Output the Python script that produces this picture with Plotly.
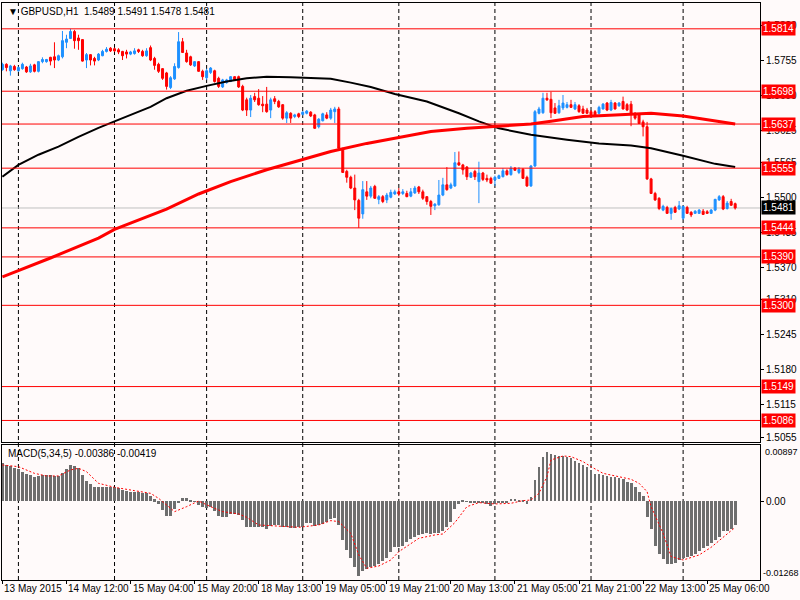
import plotly.graph_objects as go

# GBPUSD H1 candles, one entry per bar (bar 0 = 13 May 20:00)
opens = [1.5738, 1.5748, 1.5736, 1.5744, 1.5736, 1.5740, 1.5743, 1.5734, 1.5747, 1.5735,
         1.5753, 1.5753, 1.5761, 1.5762, 1.5756, 1.5762, 1.5789, 1.5796, 1.5809, 1.5797,
         1.5794, 1.5756, 1.5766, 1.5759, 1.5756, 1.5764, 1.5772, 1.5778, 1.5777, 1.5775,
         1.5772, 1.5771, 1.5767, 1.5768, 1.5775, 1.5772, 1.5764, 1.5779, 1.5759, 1.5748,
         1.5740, 1.5732, 1.5705, 1.5721, 1.5742, 1.5790, 1.5769, 1.5762, 1.5745, 1.5753,
         1.5735, 1.5723, 1.5733, 1.5736, 1.5722, 1.5706, 1.5714, 1.5716, 1.5725, 1.5725,
         1.5707, 1.5682, 1.5663, 1.5688, 1.5685, 1.5674, 1.5674, 1.5663, 1.5684, 1.5679,
         1.5673, 1.5648, 1.5657, 1.5651, 1.5656, 1.5655, 1.5657, 1.5659, 1.5654, 1.5632,
         1.5643, 1.5654, 1.5648, 1.5660, 1.5665, 1.5590, 1.5549, 1.5538, 1.5518, 1.5495,
         1.5470, 1.5511, 1.5503, 1.5521, 1.5497, 1.5502, 1.5496, 1.5501, 1.5507, 1.5511,
         1.5508, 1.5508, 1.5503, 1.5509, 1.5520, 1.5511, 1.5502, 1.5493, 1.5485, 1.5487,
         1.5505, 1.5524, 1.5518, 1.5522, 1.5565, 1.5561, 1.5557, 1.5538, 1.5549, 1.5530,
         1.5546, 1.5536, 1.5536, 1.5533, 1.5536, 1.5539, 1.5550, 1.5543, 1.5555, 1.5547,
         1.5553, 1.5538, 1.5522, 1.5559, 1.5657, 1.5658, 1.5685, 1.5683, 1.5667, 1.5658,
         1.5667, 1.5668, 1.5673, 1.5665, 1.5671, 1.5665, 1.5663, 1.5660, 1.5660, 1.5657,
         1.5665, 1.5676, 1.5663, 1.5676, 1.5671, 1.5679, 1.5673, 1.5674, 1.5657, 1.5654,
         1.5641, 1.5632, 1.5535, 1.5508, 1.5499, 1.5477, 1.5482, 1.5471, 1.5482, 1.5479,
         1.5462, 1.5482, 1.5473, 1.5471, 1.5471, 1.5475, 1.5474, 1.5471, 1.5477, 1.5496,
         1.5502, 1.5480, 1.5493, 1.5489]
highs = [1.5751, 1.5750, 1.5747, 1.5747, 1.5744, 1.5751, 1.5745, 1.5749, 1.5749, 1.5754,
         1.5761, 1.5758, 1.5762, 1.5789, 1.5766, 1.5810, 1.5803, 1.5814, 1.5812, 1.5803,
         1.5795, 1.5769, 1.5767, 1.5762, 1.5769, 1.5775, 1.5780, 1.5780, 1.5779, 1.5778,
         1.5773, 1.5775, 1.5773, 1.5778, 1.5777, 1.5775, 1.5778, 1.5783, 1.5762, 1.5751,
         1.5741, 1.5734, 1.5726, 1.5750, 1.5808, 1.5797, 1.5775, 1.5764, 1.5754, 1.5754,
         1.5738, 1.5740, 1.5743, 1.5738, 1.5725, 1.5721, 1.5721, 1.5726, 1.5726, 1.5727,
         1.5710, 1.5686, 1.5691, 1.5695, 1.5702, 1.5689, 1.5706, 1.5686, 1.5689, 1.5682,
         1.5674, 1.5661, 1.5659, 1.5656, 1.5658, 1.5661, 1.5663, 1.5661, 1.5656, 1.5648,
         1.5658, 1.5659, 1.5667, 1.5669, 1.5669, 1.5593, 1.5552, 1.5541, 1.5543, 1.5498,
         1.5531, 1.5531, 1.5522, 1.5524, 1.5505, 1.5505, 1.5509, 1.5515, 1.5515, 1.5518,
         1.5516, 1.5513, 1.5518, 1.5522, 1.5522, 1.5515, 1.5503, 1.5496, 1.5490, 1.5533,
         1.5537, 1.5557, 1.5528, 1.5585, 1.5586, 1.5563, 1.5559, 1.5548, 1.5552, 1.5567,
         1.5548, 1.5543, 1.5539, 1.5541, 1.5543, 1.5555, 1.5553, 1.5559, 1.5557, 1.5557,
         1.5555, 1.5541, 1.5561, 1.5663, 1.5669, 1.5695, 1.5695, 1.5697, 1.5676, 1.5682,
         1.5691, 1.5678, 1.5682, 1.5678, 1.5674, 1.5671, 1.5667, 1.5663, 1.5663, 1.5671,
         1.5676, 1.5678, 1.5682, 1.5678, 1.5678, 1.5688, 1.5676, 1.5680, 1.5659, 1.5656,
         1.5645, 1.5641, 1.5537, 1.5511, 1.5501, 1.5487, 1.5485, 1.5482, 1.5485, 1.5494,
         1.5485, 1.5485, 1.5475, 1.5477, 1.5479, 1.5479, 1.5477, 1.5479, 1.5498, 1.5505,
         1.5505, 1.5494, 1.5498, 1.5491]
lows = [1.5736, 1.5735, 1.5727, 1.5736, 1.5734, 1.5738, 1.5732, 1.5732, 1.5733, 1.5733,
        1.5750, 1.5751, 1.5746, 1.5741, 1.5754, 1.5759, 1.5778, 1.5795, 1.5777, 1.5775,
        1.5753, 1.5741, 1.5746, 1.5746, 1.5754, 1.5763, 1.5770, 1.5771, 1.5771, 1.5767,
        1.5756, 1.5759, 1.5765, 1.5766, 1.5769, 1.5762, 1.5762, 1.5754, 1.5738, 1.5732,
        1.5719, 1.5701, 1.5702, 1.5719, 1.5740, 1.5769, 1.5751, 1.5745, 1.5743, 1.5734,
        1.5719, 1.5719, 1.5730, 1.5714, 1.5704, 1.5704, 1.5712, 1.5715, 1.5717, 1.5704,
        1.5661, 1.5652, 1.5650, 1.5678, 1.5671, 1.5659, 1.5658, 1.5648, 1.5674, 1.5667,
        1.5645, 1.5639, 1.5639, 1.5648, 1.5648, 1.5653, 1.5655, 1.5650, 1.5628, 1.5629,
        1.5642, 1.5646, 1.5645, 1.5639, 1.5591, 1.5546, 1.5528, 1.5516, 1.5477, 1.5444,
        1.5461, 1.5496, 1.5499, 1.5498, 1.5488, 1.5490, 1.5490, 1.5499, 1.5505, 1.5503,
        1.5505, 1.5501, 1.5501, 1.5507, 1.5507, 1.5496, 1.5487, 1.5468, 1.5477, 1.5485,
        1.5503, 1.5513, 1.5516, 1.5520, 1.5559, 1.5543, 1.5533, 1.5537, 1.5533, 1.5490,
        1.5531, 1.5529, 1.5526, 1.5522, 1.5535, 1.5538, 1.5541, 1.5541, 1.5550, 1.5544,
        1.5535, 1.5520, 1.5520, 1.5557, 1.5655, 1.5656, 1.5680, 1.5648, 1.5656, 1.5656,
        1.5663, 1.5666, 1.5667, 1.5663, 1.5658, 1.5656, 1.5656, 1.5652, 1.5650, 1.5655,
        1.5664, 1.5661, 1.5661, 1.5664, 1.5669, 1.5664, 1.5661, 1.5633, 1.5645, 1.5637,
        1.5614, 1.5533, 1.5507, 1.5494, 1.5477, 1.5475, 1.5470, 1.5459, 1.5472, 1.5477,
        1.5459, 1.5470, 1.5464, 1.5470, 1.5470, 1.5468, 1.5470, 1.5470, 1.5475, 1.5494,
        1.5477, 1.5478, 1.5485, 1.5478]
closes = [1.5748, 1.5742, 1.5745, 1.5738, 1.5742, 1.5748, 1.5734, 1.5745, 1.5735, 1.5753,
          1.5757, 1.5757, 1.5754, 1.5756, 1.5764, 1.5792, 1.5795, 1.5809, 1.5792, 1.5792,
          1.5754, 1.5766, 1.5756, 1.5754, 1.5767, 1.5772, 1.5776, 1.5773, 1.5773, 1.5771,
          1.5764, 1.5767, 1.5771, 1.5773, 1.5772, 1.5764, 1.5773, 1.5756, 1.5746, 1.5735,
          1.5722, 1.5707, 1.5723, 1.5744, 1.5790, 1.5770, 1.5753, 1.5747, 1.5753, 1.5735,
          1.5725, 1.5736, 1.5741, 1.5716, 1.5707, 1.5719, 1.5719, 1.5725, 1.5719, 1.5706,
          1.5663, 1.5663, 1.5685, 1.5682, 1.5673, 1.5671, 1.5660, 1.5682, 1.5679, 1.5669,
          1.5648, 1.5658, 1.5648, 1.5654, 1.5651, 1.5659, 1.5661, 1.5652, 1.5629, 1.5646,
          1.5656, 1.5648, 1.5663, 1.5665, 1.5592, 1.5547, 1.5538, 1.5518, 1.5496, 1.5462,
          1.5515, 1.5503, 1.5518, 1.5499, 1.5502, 1.5493, 1.5505, 1.5510, 1.5511, 1.5507,
          1.5511, 1.5502, 1.5511, 1.5518, 1.5511, 1.5499, 1.5493, 1.5484, 1.5488, 1.5505,
          1.5524, 1.5515, 1.5524, 1.5565, 1.5561, 1.5552, 1.5539, 1.5546, 1.5539, 1.5546,
          1.5534, 1.5533, 1.5527, 1.5538, 1.5541, 1.5550, 1.5543, 1.5555, 1.5551, 1.5553,
          1.5536, 1.5522, 1.5559, 1.5660, 1.5665, 1.5685, 1.5682, 1.5658, 1.5657, 1.5671,
          1.5676, 1.5673, 1.5668, 1.5673, 1.5660, 1.5657, 1.5657, 1.5654, 1.5652, 1.5668,
          1.5674, 1.5663, 1.5677, 1.5665, 1.5676, 1.5665, 1.5663, 1.5657, 1.5648, 1.5638,
          1.5632, 1.5535, 1.5508, 1.5496, 1.5480, 1.5484, 1.5471, 1.5480, 1.5473, 1.5485,
          1.5484, 1.5471, 1.5468, 1.5475, 1.5477, 1.5469, 1.5471, 1.5477, 1.5497, 1.5502,
          1.5479, 1.5490, 1.5486, 1.5481]
bars = list(range(len(closes)))

ma_black_bars = [0, 4, 9, 14, 19, 24, 28, 32, 37, 41, 46, 51, 56, 61, 66, 72, 79, 82, 87, 92,
                 98, 106, 114, 119, 124, 132, 141, 149, 157, 162, 170, 178, 183]
ma_black = [1.5539, 1.5561, 1.5580, 1.5595, 1.5613, 1.5630, 1.5642, 1.5654, 1.5669, 1.5685,
            1.5699, 1.5708, 1.5716, 1.5722, 1.5725, 1.5724, 1.5722, 1.5721, 1.5714, 1.5706,
            1.5693, 1.5679, 1.5657, 1.5642, 1.5629, 1.5617, 1.5608, 1.5601, 1.5597, 1.5592,
            1.5578, 1.5563, 1.5557]
ma_red_bars = [0, 12, 24, 28, 32, 41, 49, 57, 66, 74, 82, 91, 99, 107, 116, 124, 132, 137,
               145, 153, 162, 170, 178, 183]
ma_red = [1.5353, 1.5388, 1.5425, 1.5441, 1.5453, 1.5479, 1.5507, 1.5530, 1.5552, 1.5569,
          1.5586, 1.5601, 1.5612, 1.5623, 1.5629, 1.5633, 1.5637, 1.5642, 1.5651, 1.5654,
          1.5657, 1.5652, 1.5643, 1.5637]

# MACD(5,34,5) main values (histogram)
macd = [0.00621, 0.00583, 0.00567, 0.00530, 0.00514, 0.00476, 0.00433, 0.00423, 0.00396, 0.00407,
        0.00423, 0.00423, 0.00423, 0.00407, 0.00407, 0.00460, 0.00514, 0.00583, 0.00567, 0.00530,
        0.00423, 0.00332, 0.00278, 0.00225, 0.00225, 0.00235, 0.00225, 0.00225, 0.00225, 0.00209,
        0.00182, 0.00171, 0.00155, 0.00155, 0.00155, 0.00139, 0.00128, 0.00086, 0.00032, -0.00048,
        -0.00139, -0.00235, -0.00235, -0.00128, -0.00032, 0.00048, 0.00048, 0.00021, -0.00005, -0.00059,
        -0.00086, -0.00112, -0.00096, -0.00150, -0.00235, -0.00246, -0.00246, -0.00203, -0.00203, -0.00219,
        -0.00300, -0.00407, -0.00407, -0.00407, -0.00407, -0.00417, -0.00439, -0.00396, -0.00380, -0.00380,
        -0.00417, -0.00417, -0.00433, -0.00433, -0.00417, -0.00407, -0.00353, -0.00342, -0.00396, -0.00380,
        -0.00364, -0.00326, -0.00289, -0.00273, -0.00380, -0.00621, -0.00781, -0.00915, -0.01049, -0.01198,
        -0.01113, -0.01091, -0.01049, -0.01038, -0.01006, -0.00952, -0.00915, -0.00808, -0.00738, -0.00728,
        -0.00717, -0.00647, -0.00610, -0.00578, -0.00540, -0.00524, -0.00514, -0.00524, -0.00514, -0.00503,
        -0.00471, -0.00417, -0.00326, -0.00128, -0.00043, 0.00011, 0.00005, -0.00011, -0.00032, -0.00021,
        -0.00032, -0.00043, -0.00070, -0.00048, -0.00032, -0.00021, -0.00016, 0.00037, 0.00037, 0.00021,
        0.00011, -0.00043, 0.00075, 0.00342, 0.00546, 0.00706, 0.00786, 0.00760, 0.00744, 0.00728,
        0.00728, 0.00717, 0.00690, 0.00653, 0.00621, 0.00583, 0.00556, 0.00503, 0.00439, 0.00439,
        0.00423, 0.00407, 0.00396, 0.00396, 0.00369, 0.00353, 0.00316, 0.00300, 0.00225, 0.00155,
        0.00086, -0.00246, -0.00449, -0.00717, -0.00845, -0.00931, -0.01006, -0.01006, -0.00984, -0.00942,
        -0.00915, -0.00888, -0.00877, -0.00845, -0.00792, -0.00754, -0.00717, -0.00674, -0.00621, -0.00567,
        -0.00471, -0.00471, -0.00449, -0.00386]
signal_bars = [0, 4, 8, 11, 14, 17, 19, 21, 24, 28, 33, 37, 39, 42, 43, 46, 49, 52, 55, 59,
               61, 64, 68, 74, 79, 82, 84, 87, 89, 91, 94, 97, 99, 102, 104, 108, 110, 113, 116,
               119, 123, 127, 130, 132, 134, 136, 137, 140, 142, 145, 147, 150, 153, 157, 159,
               161, 162, 165, 167, 170, 174, 177, 181, 183]
signal = [0.00583, 0.00556, 0.00449, 0.00407, 0.00407, 0.00503, 0.00530, 0.00476, 0.00289, 0.00225,
          0.00171, 0.00128, 0.00048, -0.00112, -0.00166, -0.00086, 0.00005, -0.00086, -0.00166, -0.00203,
          -0.00257, -0.00380, -0.00396, -0.00417, -0.00380, -0.00310, -0.00326, -0.00514, -0.00861, -0.01075,
          -0.01038, -0.00942, -0.00808, -0.00674, -0.00594, -0.00540, -0.00524, -0.00342, -0.00086,
          -0.00021, -0.00043, -0.00032, 0.00011, 0.00021, 0.00128, 0.00396, 0.00663, 0.00728, 0.00717,
          0.00637, 0.00556, 0.00449, 0.00407, 0.00353, 0.00289, 0.00155, -0.00086, -0.00514, -0.00888,
          -0.00942, -0.00861, -0.00738, -0.00524, -0.00419]

levels = [1.5814, 1.5698, 1.5637, 1.5555, 1.5444, 1.5390, 1.5300, 1.5149, 1.5086]
last_price = 1.5481
price_ticks = [1.5055, 1.5115, 1.5180, 1.5245, 1.5310, 1.5370, 1.5435, 1.5500,
               1.5565, 1.5625, 1.5690, 1.5755, 1.5820]
grid_bars = [4, 28, 51, 75, 99, 123, 147, 170]
time_bars = [0, 16, 32, 48, 64, 80, 96, 112, 128, 144, 160, 176]
time_labels = ["13 May 2015", "14 May 12:00", "15 May 04:00", "15 May 20:00",
               "18 May 13:00", "19 May 05:00", "19 May 21:00", "20 May 13:00",
               "21 May 05:00", "21 May 21:00", "22 May 13:00", "25 May 06:00"]

BG = "#FFFAFA"
FONT = "Liberation Sans"
FS = 10

fig = go.Figure()

fig.add_trace(go.Candlestick(
    x=bars, open=opens, high=highs, low=lows, close=closes,
    increasing=dict(line=dict(color="#1E90FF", width=1), fillcolor="#1E90FF"),
    decreasing=dict(line=dict(color="#FF0000", width=1), fillcolor="#FF0000"),
    whiskerwidth=0, xaxis="x", yaxis="y", hoverinfo="skip",
))
fig.add_trace(go.Scatter(x=ma_black_bars, y=ma_black, mode="lines",
                         line=dict(color="black", width=2), xaxis="x", yaxis="y"))
fig.add_trace(go.Scatter(x=ma_red_bars, y=ma_red, mode="lines",
                         line=dict(color="#FF0000", width=3), xaxis="x", yaxis="y"))

fig.add_trace(go.Bar(x=bars, y=macd, width=0.72, marker=dict(color="#6E6E6E", line=dict(width=0)),
                     xaxis="x2", yaxis="y2"))
fig.add_trace(go.Scatter(x=signal_bars, y=signal, mode="lines",
                         line=dict(color="#FF0000", width=1, dash="2px,2px"),
                         xaxis="x2", yaxis="y2"))

shapes = []
for b in grid_bars:
    shapes.append(dict(type="line", xref="x", yref="paper", x0=b, x1=b, y0=0, y1=1,
                       line=dict(color="black", width=1, dash="4px,3px"), layer="below"))
shapes.append(dict(type="line", xref="paper", yref="y", x0=0, x1=1, y0=last_price, y1=last_price,
                   line=dict(color="#C0C0C0", width=1), layer="below"))
for lv in levels:
    shapes.append(dict(type="line", xref="paper", yref="y", x0=0, x1=1, y0=lv, y1=lv,
                       line=dict(color="#FF0000", width=1)))

annotations = []
for lv in levels:
    annotations.append(dict(xref="paper", yref="y", x=1, y=lv, xanchor="left", xshift=1,
                            text=f"{lv:.4f}", showarrow=False, bgcolor="#FF0000",
                            font=dict(family=FONT, size=FS, color="white"), borderpad=1))
annotations.append(dict(xref="paper", yref="y", x=1, y=last_price, xanchor="left", xshift=1,
                        text=f"{last_price:.4f}", showarrow=False, bgcolor="black",
                        font=dict(family=FONT, size=FS, color="white"), borderpad=1))
for b, t in zip(time_bars, time_labels):
    annotations.append(dict(xref="x2", yref="paper", x=b, y=0, xanchor="left", yanchor="top",
                            xshift=0, yshift=-1, text=t, showarrow=False,
                            font=dict(family=FONT, size=FS, color="black")))
annotations.append(dict(xref="paper", yref="y2 domain", x=1, y=1, xanchor="left", yanchor="top",
                        xshift=3, text="0.00897", showarrow=False,
                        font=dict(family=FONT, size=9, color="black")))
annotations.append(dict(xref="paper", yref="y2 domain", x=1, y=0, xanchor="left", yanchor="bottom",
                        xshift=1, text="-0.01268", showarrow=False,
                        font=dict(family=FONT, size=9, color="black")))
annotations.append(dict(xref="paper", yref="paper", x=0, y=1, xanchor="left", yanchor="top",
                        xshift=4, yshift=-1, text="\u25bc GBPUSD,H1  1.5489 1.5491 1.5478 1.5481",
                        showarrow=False, font=dict(family=FONT, size=FS, color="black")))
annotations.append(dict(xref="paper", yref="y2 domain", x=0, y=1, xanchor="left", yanchor="top",
                        xshift=4, yshift=-1, text="MACD(5,34,5) -0.00386 -0.00419",
                        showarrow=False, font=dict(family=FONT, size=FS, color="black")))

axis_common = dict(showgrid=False, zeroline=False, showline=True, mirror=True,
                   linecolor="black", linewidth=1)

fig.update_layout(
    width=800, height=600,
    margin=dict(l=2, r=40, t=3, b=20),
    paper_bgcolor=BG, plot_bgcolor=BG,
    showlegend=False, bargap=0,
    font=dict(family=FONT, size=FS, color="black"),
    xaxis=dict(axis_common, range=[-0.1, 189.2], showticklabels=False, ticks="",
               rangeslider=dict(visible=False), anchor="y", domain=[0, 1]),
    yaxis=dict(axis_common, range=[1.5046, 1.5862], side="right", domain=[0.2392, 1],
               tickvals=price_ticks, ticktext=[f"{v:.4f}" for v in price_ticks],
               ticks="outside", ticklen=3, tickcolor="black", anchor="x"),
    xaxis2=dict(axis_common, range=[-0.1, 189.2], showticklabels=False, ticks="outside",
                tickvals=time_bars, ticklen=3, tickcolor="black", anchor="y2", domain=[0, 1]),
    yaxis2=dict(axis_common, range=[-0.01263, 0.00904], side="right", domain=[0, 0.234],
                tickvals=[0], ticktext=["0.00"], ticks="outside", ticklen=3,
                tickcolor="black", anchor="x2"),
    shapes=shapes, annotations=annotations,
)

# the page's default body margin would push the 800x600 figure out of the window
fig.write_html("out.html", config={"displayModeBar": False},
               post_script="document.body.style.margin='0';")
